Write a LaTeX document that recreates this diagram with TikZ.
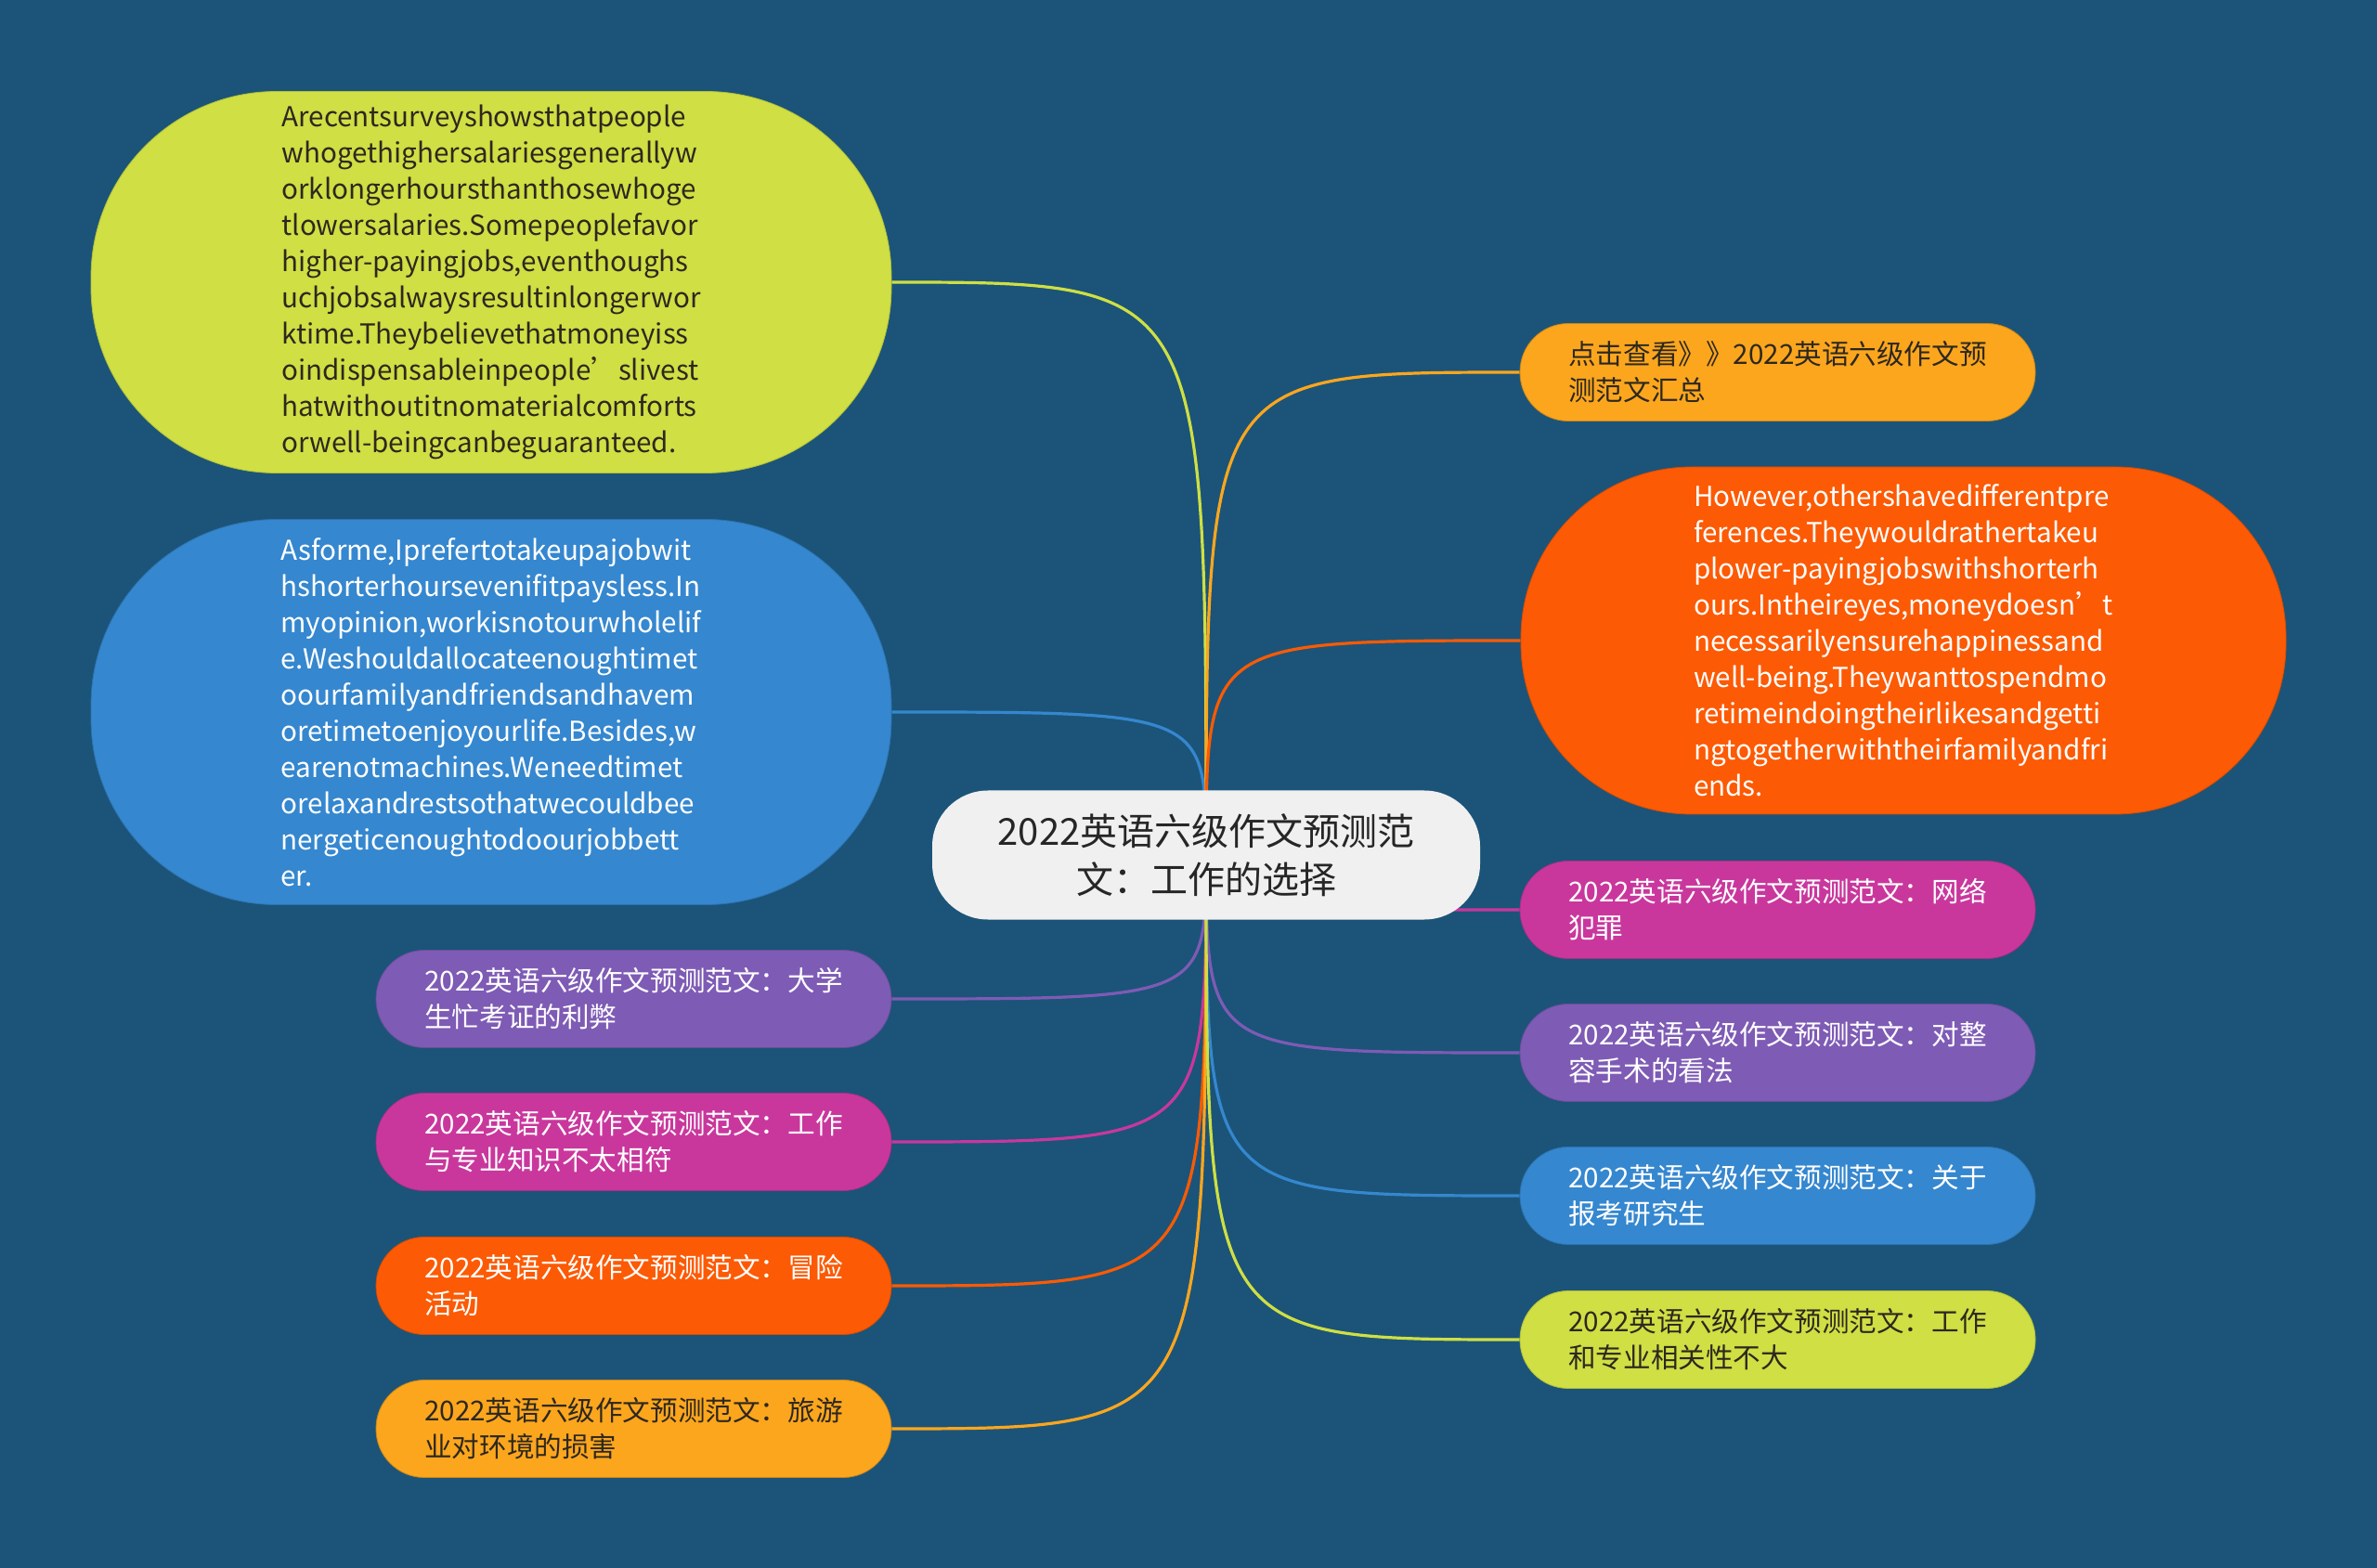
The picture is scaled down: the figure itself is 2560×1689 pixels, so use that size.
\documentclass[tikz,border=0pt]{standalone}
\usepackage{fontspec}
\setmainfont{Noto Sans CJK SC}
\usetikzlibrary{backgrounds}
\definecolor{pageblue}{RGB}{27,84,120}
\definecolor{cLime}{RGB}{207,223,68}
\definecolor{cBlue}{RGB}{53,135,207}
\definecolor{cPurple}{RGB}{126,91,181}
\definecolor{cMagenta}{RGB}{201,55,157}
\definecolor{cOrange}{RGB}{252,90,4}
\definecolor{cAmber}{RGB}{252,166,30}
\definecolor{cCenter}{RGB}{240,240,240}
\definecolor{txtdark}{RGB}{45,40,30}
\begin{document}
\begin{tikzpicture}[x=0.5pt,y=-0.5pt,
  box/.style={rounded corners=26pt,minimum width=277.5pt,minimum height=52.5pt,align=left,inner sep=0pt,font=\fontsize{14.8}{19.5}\selectfont},
  essay/.style={box,rounded corners=100pt},
  link/.style={line width=1.6pt}]
\useasboundingbox (0,0) rectangle (2560,1689);
% centre topic
\node[box,fill=cCenter,rounded corners=30pt,minimum width=295pt,minimum height=69.5pt,align=center,font=\fontsize{20}{26}\selectfont,text=black!85] (c) at (1299,921) {2022英语六级作文预测范\\文：工作的选择};
% left branches
\node[essay,fill=cLime,draw=cLime!85!black,text=txtdark,minimum width=431pt,minimum height=205.5pt] (l1) at (529,304) {Arecentsurveyshowsthatpeople\\whogethighersalariesgenerallyw\\orklongerhoursthanthosewhoge\\tlowersalaries.Somepeoplefavor\\higher-payingjobs,eventhoughs\\uchjobsalwaysresultinlongerwor\\ktime.Theybelievethatmoneyiss\\oindispensableinpeople’slivest\\hatwithoutitnomaterialcomforts\\orwell-beingcanbeguaranteed.};
\node[essay,fill=cBlue,draw=cBlue!85!black,text=white,minimum width=431pt,minimum height=207.5pt] (l2) at (529,767) {Asforme,Iprefertotakeupajobwit\\hshorterhoursevenifitpaysless.In\\myopinion,workisnotourwholelif\\e.Weshouldallocateenoughtimet\\oourfamilyandfriendsandhavem\\oretimetoenjoyourlife.Besides,w\\earenotmachines.Weneedtimet\\orelaxandrestsothatwecouldbee\\nergeticenoughtodoourjobbett\\er.};
\node[box,fill=cPurple,draw=cPurple!85!black,text=white] (l3) at (682.5,1076) {2022英语六级作文预测范文：大学\\生忙考证的利弊};
\node[box,fill=cMagenta,draw=cMagenta!85!black,text=white] (l4) at (682.5,1230) {2022英语六级作文预测范文：工作\\与专业知识不太相符};
\node[box,fill=cOrange,draw=cOrange!85!black,text=white] (l5) at (682.5,1385) {2022英语六级作文预测范文：冒险\\活动};
\node[box,fill=cAmber,draw=cAmber!80!black,text=txtdark] (l6) at (682.5,1539) {2022英语六级作文预测范文：旅游\\业对环境的损害};
% right branches
\node[box,fill=cAmber,draw=cAmber!80!black,text=txtdark] (r1) at (1914.5,401) {点击查看》》2022英语六级作文预\\测范文汇总};
\node[essay,fill=cOrange,draw=cOrange!85!black,text=white,rounded corners=92pt,minimum width=412pt,minimum height=187pt] (r2) at (2050,690) {However,othershavedifferentpre\\ferences.Theywouldrathertakeu\\plower-payingjobswithshorterh\\ours.Intheireyes,moneydoesn’t\\necessarilyensurehappinessand\\well-being.Theywanttospendmo\\retimeindoingtheirlikesandgetti\\ngtogetherwiththeirfamilyandfri\\ends.};
\node[box,fill=cMagenta,draw=cMagenta!85!black,text=white] (r3) at (1914.5,980) {2022英语六级作文预测范文：网络\\犯罪};
\node[box,fill=cPurple,draw=cPurple!85!black,text=white] (r4) at (1914.5,1134) {2022英语六级作文预测范文：对整\\容手术的看法};
\node[box,fill=cBlue,draw=cBlue!85!black,text=white] (r5) at (1914.5,1288) {2022英语六级作文预测范文：关于\\报考研究生};
\node[box,fill=cLime,draw=cLime!85!black,text=txtdark] (r6) at (1914.5,1443) {2022英语六级作文预测范文：工作\\和专业相关性不大};
% connectors behind the nodes
\begin{pgfonlayer}{background}
\fill[pageblue] (0,0) rectangle (2560,1689);
\foreach \n/\col in {l1/cLime,l2/cBlue,l3/cPurple,l4/cMagenta,l5/cOrange,l6/cAmber}
  \draw[link,\col] (c.center) .. controls (c.center |- \n.east) .. (\n.east);
\foreach \n/\col in {r1/cAmber,r2/cOrange,r3/cMagenta,r4/cPurple,r5/cBlue,r6/cLime}
  \draw[link,\col] (c.center) .. controls (c.center |- \n.west) .. (\n.west);
\end{pgfonlayer}
\end{tikzpicture}
\end{document}
